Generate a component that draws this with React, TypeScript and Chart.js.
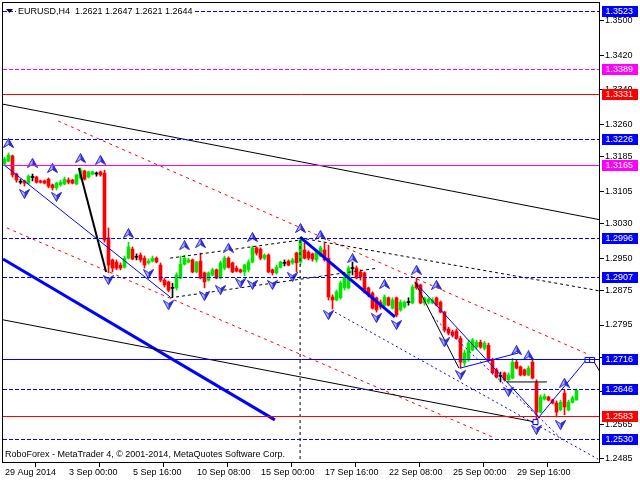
import React, { useEffect, useRef } from "react";
import { Chart, registerables } from "chart.js";

Chart.register(...registerables);

const symbolName = "EURUSD,H4";
const footerText = "RoboForex - MetaTrader 4, \u00A9 2001-2014, MetaQuotes Software Corp.";

const opens = [
  1.3168, 1.3175, 1.3187, 1.3145, 1.3127, 1.3129, 1.3124, 1.3138, 1.3138, 1.3129,
  1.3129, 1.3133, 1.3120, 1.3113, 1.3120, 1.3122, 1.3131, 1.3131, 1.3122, 1.3136,
  1.3152, 1.3138, 1.3145, 1.3145, 1.3150, 1.3147, 1.2997, 1.2946, 1.2941, 1.2934,
  1.2929, 1.2950, 1.2971, 1.2953, 1.2957, 1.2950, 1.2939, 1.2943, 1.2950, 1.2934,
  1.2899, 1.2895, 1.2881, 1.2881, 1.2904, 1.2936, 1.2941, 1.2946, 1.2918, 1.2943,
  1.2916, 1.2899, 1.2911, 1.2923, 1.2904, 1.2927, 1.2950, 1.2939, 1.2927, 1.2923,
  1.2918, 1.2923, 1.2941, 1.2974, 1.2971, 1.2950, 1.2957, 1.2923, 1.2916, 1.2929,
  1.2939, 1.2943, 1.2939, 1.2962, 1.2941, 1.2969, 1.2964, 1.2960, 1.2946, 1.2955,
  1.2969, 1.2950, 1.2860, 1.2853, 1.2858, 1.2881, 1.2881, 1.2927, 1.2927, 1.2918,
  1.2916, 1.2881, 1.2869, 1.2858, 1.2848, 1.2841, 1.2858, 1.2834, 1.2858, 1.2830,
  1.2837, 1.2848, 1.2846, 1.2892, 1.2888, 1.2846, 1.2848, 1.2846, 1.2858, 1.2848,
  1.2825, 1.2786, 1.2779, 1.2781, 1.2764, 1.2707, 1.2714, 1.2737, 1.2744, 1.2755,
  1.2741, 1.2748, 1.2714, 1.2691, 1.2677, 1.2684, 1.2668, 1.2672, 1.2709, 1.2698,
  1.2691, 1.2679, 1.2709, 1.2661, 1.2593, 1.2623, 1.2628, 1.2621, 1.2614, 1.2598,
  1.2637, 1.2598, 1.2616, 1.2621,
];
const highs = [
  1.3184, 1.3194, 1.3189, 1.3147, 1.3133, 1.3131, 1.3143, 1.3145, 1.3140, 1.3131,
  1.3131, 1.3136, 1.3122, 1.3126, 1.3131, 1.3138, 1.3136, 1.3133, 1.3145, 1.3159,
  1.3154, 1.3152, 1.3152, 1.3150, 1.3152, 1.3154, 1.3020, 1.2948, 1.2946, 1.2939,
  1.2955, 1.2987, 1.2976, 1.2960, 1.2962, 1.2955, 1.2948, 1.2955, 1.2953, 1.2939,
  1.2904, 1.2897, 1.2892, 1.2916, 1.2955, 1.2957, 1.2950, 1.2948, 1.2943, 1.2962,
  1.2918, 1.2918, 1.2927, 1.2925, 1.2943, 1.2955, 1.2953, 1.2941, 1.2932, 1.2925,
  1.2936, 1.2946, 1.2978, 1.2976, 1.2974, 1.2960, 1.2960, 1.2925, 1.2934, 1.2943,
  1.2946, 1.2946, 1.2950, 1.2964, 1.2997, 1.2985, 1.2967, 1.2962, 1.2969, 1.2978,
  1.2985, 1.2980, 1.2865, 1.2876, 1.2897, 1.2911, 1.2932, 1.2941, 1.2932, 1.2923,
  1.2918, 1.2883, 1.2872, 1.2860, 1.2853, 1.2865, 1.2860, 1.2858, 1.2860, 1.2853,
  1.2851, 1.2858, 1.2888, 1.2904, 1.2890, 1.2860, 1.2858, 1.2858, 1.2860, 1.2851,
  1.2827, 1.2790, 1.2783, 1.2786, 1.2769, 1.2737, 1.2760, 1.2764, 1.2760, 1.2760,
  1.2757, 1.2753, 1.2718, 1.2695, 1.2686, 1.2686, 1.2684, 1.2718, 1.2714, 1.2700,
  1.2693, 1.2700, 1.2718, 1.2668, 1.2633, 1.2635, 1.2630, 1.2623, 1.2619, 1.2621,
  1.2644, 1.2621, 1.2630, 1.2647,
];
const lows = [
  1.3166, 1.3173, 1.3138, 1.3126, 1.3122, 1.3117, 1.3122, 1.3129, 1.3124, 1.3124,
  1.3122, 1.3113, 1.3108, 1.3108, 1.3117, 1.3120, 1.3122, 1.3122, 1.3120, 1.3133,
  1.3131, 1.3136, 1.3143, 1.3140, 1.3140, 1.2987, 1.2916, 1.2918, 1.2923, 1.2923,
  1.2927, 1.2948, 1.2946, 1.2946, 1.2941, 1.2927, 1.2936, 1.2941, 1.2939, 1.2895,
  1.2883, 1.2872, 1.2860, 1.2876, 1.2902, 1.2934, 1.2939, 1.2916, 1.2916, 1.2902,
  1.2881, 1.2897, 1.2909, 1.2902, 1.2902, 1.2923, 1.2927, 1.2916, 1.2918, 1.2916,
  1.2909, 1.2918, 1.2939, 1.2957, 1.2946, 1.2946, 1.2916, 1.2911, 1.2913, 1.2927,
  1.2932, 1.2932, 1.2936, 1.2918, 1.2934, 1.2948, 1.2946, 1.2943, 1.2941, 1.2953,
  1.2943, 1.2853, 1.2832, 1.2851, 1.2855, 1.2876, 1.2878, 1.2911, 1.2902, 1.2899,
  1.2869, 1.2860, 1.2832, 1.2825, 1.2832, 1.2837, 1.2839, 1.2832, 1.2814, 1.2827,
  1.2834, 1.2841, 1.2844, 1.2878, 1.2844, 1.2841, 1.2844, 1.2844, 1.2839, 1.2823,
  1.2779, 1.2772, 1.2767, 1.2762, 1.2695, 1.2700, 1.2711, 1.2735, 1.2739, 1.2741,
  1.2737, 1.2711, 1.2681, 1.2672, 1.2663, 1.2665, 1.2665, 1.2670, 1.2693, 1.2677,
  1.2677, 1.2677, 1.2670, 1.2570, 1.2591, 1.2621, 1.2619, 1.2612, 1.2582, 1.2596,
  1.2587, 1.2596, 1.2614, 1.2621,
];
const closes = [
  1.3180, 1.3189, 1.3143, 1.3131, 1.3126, 1.3124, 1.3140, 1.3137, 1.3126, 1.3126,
  1.3124, 1.3117, 1.3113, 1.3124, 1.3126, 1.3133, 1.3126, 1.3124, 1.3143, 1.3154,
  1.3133, 1.3150, 1.3150, 1.3145, 1.3143, 1.2992, 1.2934, 1.2927, 1.2927, 1.2927,
  1.2950, 1.2976, 1.2948, 1.2952, 1.2946, 1.2934, 1.2943, 1.2950, 1.2941, 1.2899,
  1.2888, 1.2876, 1.2880, 1.2911, 1.2936, 1.2950, 1.2946, 1.2918, 1.2941, 1.2904,
  1.2895, 1.2916, 1.2923, 1.2904, 1.2939, 1.2950, 1.2929, 1.2918, 1.2920, 1.2918,
  1.2934, 1.2941, 1.2974, 1.2962, 1.2950, 1.2957, 1.2918, 1.2916, 1.2929, 1.2941,
  1.2938, 1.2934, 1.2946, 1.2939, 1.2992, 1.2950, 1.2950, 1.2948, 1.2964, 1.2974,
  1.2946, 1.2860, 1.2853, 1.2872, 1.2892, 1.2906, 1.2927, 1.2926, 1.2904, 1.2906,
  1.2872, 1.2865, 1.2834, 1.2830, 1.2837, 1.2860, 1.2841, 1.2853, 1.2818, 1.2848,
  1.2848, 1.2847, 1.2883, 1.2881, 1.2846, 1.2858, 1.2855, 1.2853, 1.2841, 1.2825,
  1.2783, 1.2776, 1.2771, 1.2764, 1.2709, 1.2730, 1.2753, 1.2760, 1.2755, 1.2744,
  1.2753, 1.2714, 1.2684, 1.2674, 1.2676, 1.2668, 1.2679, 1.2709, 1.2695, 1.2679,
  1.2679, 1.2695, 1.2672, 1.2593, 1.2628, 1.2630, 1.2621, 1.2614, 1.2593, 1.2616,
  1.2605, 1.2616, 1.2626, 1.2644,
];

const dateLabels = [
  "29 Aug 2014", "3 Sep 00:00", "5 Sep 16:00", "10 Sep 08:00", "15 Sep 00:00",
  "17 Sep 16:00", "22 Sep 08:00", "25 Sep 00:00", "29 Sep 16:00",
];
const dateTickIdx = [-0.375, 15.625, 31.625, 47.625, 63.625, 79.625, 95.625, 111.625, 127.625];

const priceTicks = [
  1.35, 1.342, 1.334, 1.326, 1.3185, 1.3105, 1.303, 1.295, 1.2875, 1.2795, 1.272, 1.264, 1.2565, 1.2485,
];

// horizontal price levels
const levelPrices = [1.3523, 1.3389, 1.3331, 1.3226, 1.3165, 1.2996, 1.2907, 1.2716, 1.2646, 1.2583, 1.253];
const levelColors = ["#0000FF", "#FF00FF", "#FF0000", "#0000FF", "#FF00FF", "#0000FF", "#0000FF", "#0000FF", "#0000FF", "#FF0000", "#0000FF"];
const levelDashed = [true, true, false, true, false, true, true, false, true, false, true];

// trend lines: [index1, price1, index2, price2]
const trendLines = [
  [-0.375, 1.3307, 148.875, 1.3039],
  [-0.375, 1.2807, 132.75, 1.257],
  [73.9, 1.2997, 148.875, 1.2874],
  [41.4, 1.295, 73.9, 1.2992],
  [41.4, 1.2858, 93.4, 1.2927],
  [73.9, 1.2992, 73.9, 1.247],
  [18.6, 1.3159, 25.4, 1.2918],
  [102.6, 1.2895, 113.6, 1.2695],
  [125.6, 1.2663, 135.6, 1.2663],
  [147.1, 1.2714, 148.9, 1.2686],
  [-0.375, 1.2948, 67.6, 1.2575],
  [73.9, 1.2999, 97.6, 1.2814],
  [-0.1, 1.3166, 41.4, 1.286],
  [102.6, 1.2895, 133.9, 1.2579],
  [113.9, 1.2695, 128.4, 1.273],
  [132.6, 1.257, 145.6, 1.2716],
  [82.6, 1.2825, 148.4, 1.2484],
  [107.1, 1.2814, 139.6, 1.2528],
  [13.4, 1.3268, 146.4, 1.2725],
  [0.6, 1.302, 122.6, 1.2533],
];
const trendColors = [
  "#000000", "#000000", "#000000", "#000000", "#000000", "#000000", "#000000", "#000000", "#000000", "#000000",
  "#0000FF", "#0000FF", "#0000FF", "#0000FF", "#0000FF", "#0000FF", "#0000FF", "#0000FF", "#FF0000", "#FF0000",
];
const trendWidths = [1, 1, 1, 1, 1, 1, 2, 1, 1, 1, 3, 3, 1, 1, 1, 1, 1, 1, 1, 1];
const trendDashes = [
  [], [], [3, 3], [3, 3], [3, 3], [3, 3], [], [], [], [],
  [], [], [], [], [], [], [2, 3], [2, 3], [3, 4], [3, 4],
];

const upFracIdx = [1, 7, 12, 19, 24, 31, 45, 49, 56, 62, 74, 79, 87, 95, 103, 108, 128, 131, 140];
const upFracPrice = [1.3217, 1.3171, 1.3159, 1.3182, 1.3178, 1.3008, 1.298, 1.2985, 1.2974, 1.2999, 1.302, 1.3004, 1.295, 1.289, 1.2923, 1.2888, 1.2737, 1.2725, 1.2661];
const downFracIdx = [5, 13, 26, 36, 41, 50, 54, 59, 62, 67, 72, 81, 93, 98, 110, 114, 126, 133, 139];
const downFracPrice = [1.3099, 1.3092, 1.2899, 1.2913, 1.2841, 1.2862, 1.2876, 1.2892, 1.2888, 1.2888, 1.2906, 1.2818, 1.2811, 1.2795, 1.2755, 1.2679, 1.264, 1.2552, 1.2563];

const markerIdx = [132.75, 145.75, 146.9];
const markerPrice = [1.257, 1.2714, 1.2714];

const GREEN = "#00E600";
const RED = "#FF0000";
const DOJI = "#000000";
const FONT = "'Liberation Sans', Arial, sans-serif";

function candleColor(i: number) {
  const d = closes[i] - opens[i];
  if (d > 0.00015) return GREEN;
  if (d < -0.00015) return RED;
  return DOJI;
}

function makeArrow(up: boolean) {
  const c = document.createElement("canvas");
  c.width = 11;
  c.height = 10;
  const g = c.getContext("2d")!;
  const pts = up
    ? [[5.5, 0.5], [10.5, 9.5], [5.5, 6.5], [0.5, 9.5]]
    : [[5.5, 9.5], [10.5, 0.5], [5.5, 3.5], [0.5, 0.5]];
  g.beginPath();
  g.moveTo(pts[0][0], pts[0][1]);
  for (let k = 1; k < pts.length; k++) g.lineTo(pts[k][0], pts[k][1]);
  g.closePath();
  g.fillStyle = "#b8b8ff";
  g.fill();
  g.beginPath();
  g.moveTo(pts[0][0], pts[0][1]);
  g.lineTo(pts[1][0], pts[1][1]);
  g.lineTo(pts[2][0], pts[2][1]);
  g.closePath();
  g.fillStyle = "#3030e0";
  g.fill();
  g.beginPath();
  g.moveTo(pts[0][0], pts[0][1]);
  for (let k = 1; k < pts.length; k++) g.lineTo(pts[k][0], pts[k][1]);
  g.closePath();
  g.strokeStyle = "#2020c8";
  g.lineWidth = 1;
  g.stroke();
  return c;
}

const overlayPlugin = {
  id: "mt4overlay",
  afterDatasetsDraw(chart: any) {
    const { ctx, chartArea: a } = chart;
    const y = chart.scales.y;
    ctx.save();
    ctx.beginPath();
    ctx.rect(a.left, a.top, a.right - a.left, a.bottom - a.top);
    ctx.clip();
    levelPrices.forEach((p, k) => {
      const py = Math.round(y.getPixelForValue(p)) + 0.5;
      ctx.strokeStyle = levelColors[k];
      ctx.lineWidth = 1;
      ctx.setLineDash(levelDashed[k] ? [4, 2] : []);
      ctx.beginPath();
      ctx.moveTo(a.left, py);
      ctx.lineTo(a.right, py);
      ctx.stroke();
    });
    ctx.restore();
  },
  afterDraw(chart: any) {
    const { ctx, chartArea: a } = chart;
    const y = chart.scales.y;
    ctx.save();
    ctx.setLineDash([]);
    ctx.strokeStyle = "#000";
    ctx.lineWidth = 1;
    ctx.strokeRect(a.left - 0.5, a.top + 0.5, a.right - a.left, a.bottom - a.top);
    ctx.font = `9px ${FONT}`;
    ctx.textBaseline = "middle";
    ctx.textAlign = "left";
    levelPrices.forEach((p, k) => {
      const py = Math.round(y.getPixelForValue(p));
      ctx.fillStyle = levelColors[k];
      ctx.fillRect(602, py - 5, 36, 11);
      ctx.fillStyle = "#fff";
      ctx.fillText(p.toFixed(4), 605.5, py + 0.5);
    });
    const last = opens.length - 1;
    const header = `${symbolName}  ${opens[last].toFixed(4)} ${highs[last].toFixed(4)} ${lows[last].toFixed(4)} ${closes[last].toFixed(4)}`;
    const w = ctx.measureText(header).width;
    ctx.fillStyle = "#fff";
    ctx.fillRect(16, 6, w + 4, 11);
    ctx.fillStyle = "#000";
    ctx.fillText(header, 18, 11.5);
    ctx.beginPath();
    ctx.moveTo(6, 9);
    ctx.lineTo(13, 9);
    ctx.lineTo(9.5, 13);
    ctx.closePath();
    ctx.fill();
    ctx.fillText(footerText, 5, 455);
    ctx.restore();
  },
};

export default function App() {
  const ref = useRef<HTMLCanvasElement | null>(null);
  useEffect(() => {
    if (!ref.current) return;
    const upArrow = makeArrow(true);
    const downArrow = makeArrow(false);
    const colors = opens.map((_, i) => candleColor(i));
    const bodies = opens.map((o, i) => ({ x: i, y: [o, closes[i]] }));
    const wicks = highs.map((h, i) => ({ x: i, y: [lows[i], h] }));

    const lineSets = trendLines.map((t, k) => ({
      type: "line",
      data: [{ x: t[0], y: t[1] }, { x: t[2], y: t[3] }],
      borderColor: trendColors[k],
      borderWidth: trendWidths[k],
      borderDash: trendDashes[k],
      pointRadius: 0,
      fill: false,
      tension: 0,
      order: 2,
    }));

    const chart = new Chart(ref.current, {
      type: "bar",
      data: {
        datasets: [
          { type: "bar", data: wicks, backgroundColor: colors, barThickness: 1, grouped: false, borderWidth: 0, order: 6 },
          { type: "bar", data: bodies, backgroundColor: colors, barThickness: 3, minBarLength: 1, grouped: false, borderWidth: 0, order: 5 },
          ...lineSets,
          {
            type: "scatter",
            data: upFracIdx.map((x, i) => ({ x, y: upFracPrice[i] })),
            pointStyle: upArrow,
            pointRadius: 5,
            order: 1,
          },
          {
            type: "scatter",
            data: downFracIdx.map((x, i) => ({ x, y: downFracPrice[i] })),
            pointStyle: downArrow,
            pointRadius: 5,
            order: 1,
          },
          {
            type: "scatter",
            data: markerIdx.map((x, i) => ({ x, y: markerPrice[i] })),
            pointStyle: "rect",
            pointRadius: 3.5,
            borderColor: "#0000FF",
            backgroundColor: "#ffffff",
            borderWidth: 1,
            order: 0,
          },
        ] as any,
      },
      options: {
        animation: false,
        responsive: false,
        events: [],
        layout: { autoPadding: false, padding: { left: 3, top: 2, right: 0, bottom: 0 } },
        plugins: { legend: { display: false }, tooltip: { enabled: false } },
        scales: {
          x: {
            type: "linear",
            min: -0.375,
            max: 148.875,
            offset: false,
            position: "bottom",
            grid: { drawOnChartArea: false, tickLength: 5, color: "#000", lineWidth: 1 },
            border: { display: false },
            afterBuildTicks: (s: any) => {
              s.ticks = dateTickIdx.map((v) => ({ value: v }));
            },
            afterFit: (s: any) => {
              s.height = 18;
              s.paddingLeft = 0;
              s.paddingRight = 0;
            },
            ticks: {
              autoSkip: false,
              maxRotation: 0,
              minRotation: 0,
              align: "start",
              labelOffset: 2,
              padding: 0,
              color: "#000",
              font: { family: FONT, size: 9 },
              callback: (_v: any, i: number) => dateLabels[i],
            },
          },
          y: {
            type: "linear",
            position: "right",
            min: 1.24774,
            max: 1.35439,
            grid: { drawOnChartArea: false, tickLength: 4, color: "#000", lineWidth: 1 },
            border: { display: false },
            afterBuildTicks: (s: any) => {
              s.ticks = priceTicks.map((v) => ({ value: v }));
            },
            afterFit: (s: any) => {
              s.width = 40;
              s.paddingTop = 0;
              s.paddingBottom = 0;
            },
            ticks: {
              autoSkip: false,
              padding: 1,
              color: "#000",
              font: { family: FONT, size: 9 },
              callback: (v: any) => Number(v).toFixed(4),
            },
          },
        },
      } as any,
      plugins: [overlayPlugin as any],
    });
    return () => chart.destroy();
  }, []);

  return (
    <div style={{ position: "absolute", left: 0, top: 0, width: 640, height: 480, background: "#fff" }}>
      <canvas ref={ref} width={640} height={480} style={{ display: "block", width: 640, height: 480 }} />
    </div>
  );
}
